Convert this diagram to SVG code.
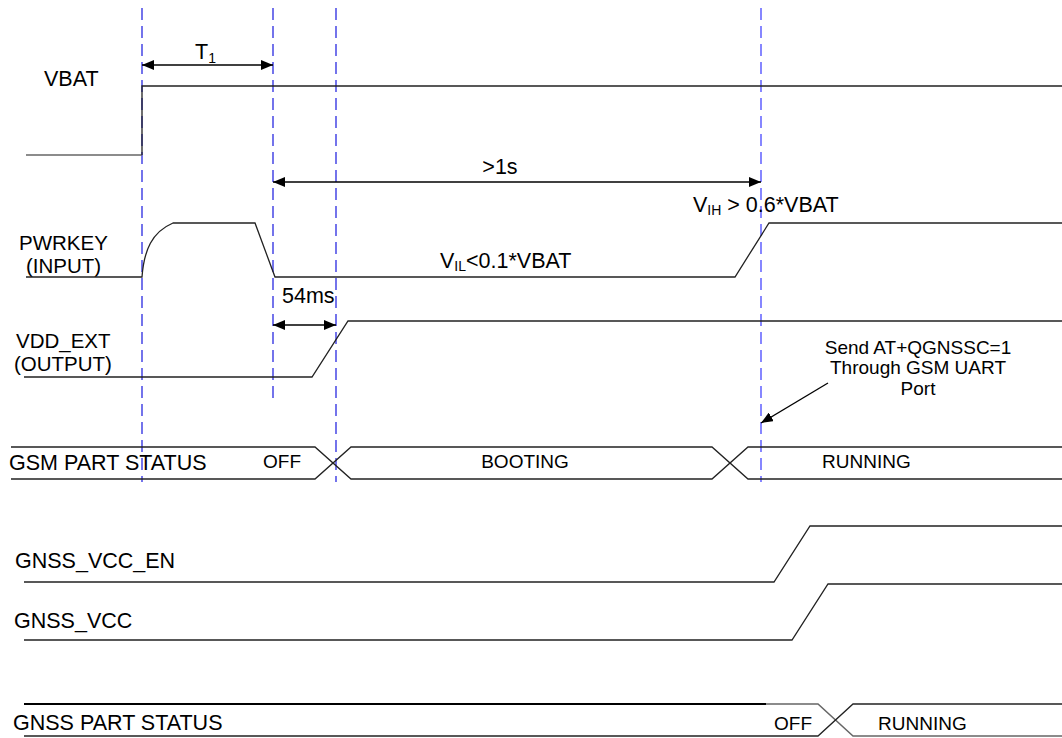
<svg xmlns="http://www.w3.org/2000/svg" width="1062" height="738" viewBox="0 0 1062 738">
<style>
text{font-family:"Liberation Sans",Arial,sans-serif;fill:#000}
.lbl{font-size:21.5px}
.lbl2{font-size:20.5px}
.bus{font-size:19px}
.ann{font-size:19px}
.sig{fill:none;stroke:#222;stroke-width:1.3}
.gry{fill:none;stroke:#666;stroke-width:1.5}
.dash{stroke:#2a2ae0;stroke-width:1.3;stroke-dasharray:12,6;fill:none}
.dash2{stroke:#7a7aff;stroke-width:1.8;stroke-dasharray:12,6;fill:none}
.dim{stroke:#000;stroke-width:1.3;fill:none}
</style>
<defs>
<marker id="ah" viewBox="0 0 12 10" refX="12" refY="5" markerWidth="12" markerHeight="10" markerUnits="userSpaceOnUse" orient="auto-start-reverse">
<path d="M0,0 L12,5 L0,10 Z" fill="#000"/>
</marker>
</defs>
<rect width="1062" height="738" fill="#fff"/>

<g id="guides">
<line class="dash" x1="142" y1="8" x2="142" y2="482"/>
<line class="dash" x1="273" y1="8" x2="273" y2="398"/>
<line class="dash" x1="336" y1="8" x2="336" y2="482"/>
<line class="dash2" x1="761" y1="8" x2="761" y2="482"/>
</g>

<g id="vbat">
<text class="lbl" x="44" y="86">VBAT</text>
<line class="gry" x1="26" y1="155" x2="142" y2="155"/>
<polyline class="sig" points="142,155 142,86 1062,86"/>
</g>

<g id="pwrkey">
<text class="lbl2" x="19" y="250">PWRKEY</text>
<text class="lbl2" x="26" y="273">(INPUT)</text>
<path class="sig" d="M26,277 L142,277 C144,250 152,232 173,223 L255,223 L275,277 L735,277 L769,223 L1062,223"/>
<text class="lbl" x="440" y="268">V<tspan font-size="14" dy="3">IL</tspan><tspan dy="-3">&lt;0.1*VBAT</tspan></text>
<text class="lbl" x="693" y="212">V<tspan font-size="14" dy="3">IH</tspan><tspan dy="-3"> &gt; 0.6*VBAT</tspan></text>
</g>

<g id="vdd_ext">
<text class="lbl2" x="16" y="348">VDD_EXT</text>
<text class="lbl2" x="14" y="371">(OUTPUT)</text>
<polyline class="sig" points="24,377 312,377 348,321 1062,321"/>
</g>

<g id="gsm_status">
<text class="lbl" x="9" y="470">GSM PART STATUS</text>
<polyline class="sig" points="11,447 315,447 351,479 712,479 748,447 1062,447"/>
<polyline class="sig" points="11,479 315,479 351,447 712,447 748,479 1062,479"/>
<text class="bus" x="263" y="468">OFF</text>
<text class="bus" x="525" y="468" text-anchor="middle">BOOTING</text>
<text class="bus" x="822" y="468">RUNNING</text>
</g>

<g id="annotation">
<text class="ann" x="918" y="354" text-anchor="middle">Send AT+QGNSSC=1</text>
<text class="ann" x="918" y="374" text-anchor="middle">Through GSM UART</text>
<text class="ann" x="918" y="395" text-anchor="middle">Port</text>
</g>

<g id="gnss_vcc_en">
<text class="lbl" x="15" y="568">GNSS_VCC_EN</text>
<polyline class="sig" points="24,582 774,582 810,526 1062,526"/>
</g>

<g id="gnss_vcc">
<text class="lbl" x="14" y="628">GNSS_VCC</text>
<polyline class="sig" points="24,640 792,640 828,584 1062,584"/>
</g>

<g id="gnss_status">
<text class="lbl" x="13" y="730">GNSS PART STATUS</text>
<line x1="24" y1="704" x2="766" y2="704" stroke="#000" stroke-width="2.2"/>
<polyline class="gry" points="766,704 818,704 853,736 1062,736"/>
<polyline class="sig" points="24,736 818,736 853,704 1062,704"/>
<text class="bus" x="774" y="730">OFF</text>
<text class="bus" x="878" y="730">RUNNING</text>
</g>

<g id="connectors">
<line class="dim" x1="142" y1="65" x2="273" y2="65" marker-start="url(#ah)" marker-end="url(#ah)"/>
<text class="lbl" x="195" y="59">T<tspan font-size="14" dy="4">1</tspan></text>
<line class="dim" x1="273" y1="182" x2="761" y2="182" marker-start="url(#ah)" marker-end="url(#ah)"/>
<text class="lbl" x="500" y="174" text-anchor="middle">&gt;1s</text>
<line class="dim" x1="273" y1="325" x2="336" y2="325" marker-start="url(#ah)" marker-end="url(#ah)"/>
<text class="lbl" x="282" y="303">54ms</text>
<line class="dim" x1="828" y1="383" x2="761" y2="423" marker-end="url(#ah)"/>
</g>
</svg>
